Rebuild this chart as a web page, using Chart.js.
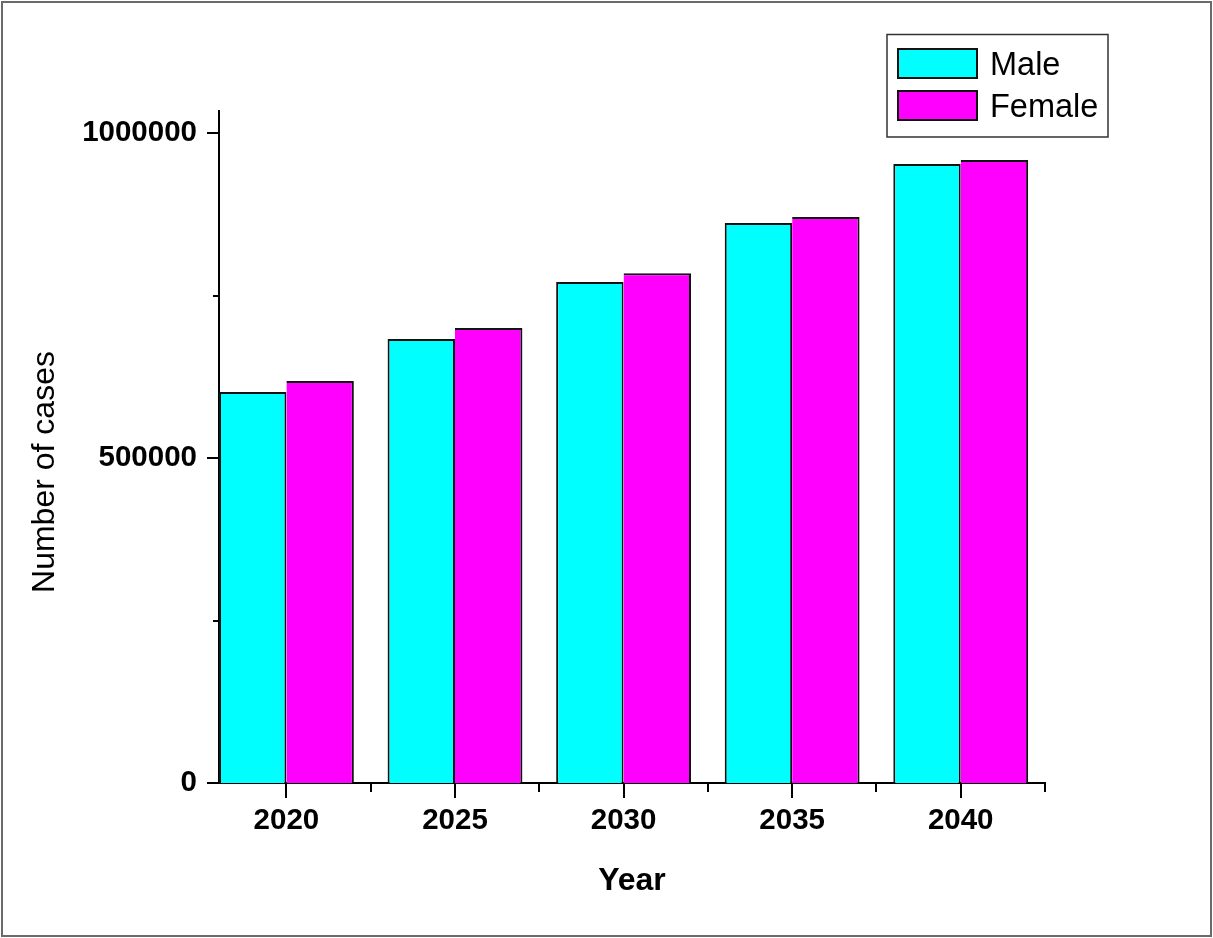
<!DOCTYPE html>
<html>
<head>
<meta charset="utf-8">
<script src="https://cdn.jsdelivr.net/npm/chart.js@4.4.1/dist/chart.umd.min.js"></script>
<style>
  html, body { margin: 0; padding: 0; background: #ffffff; }
  #wrap { width: 1213px; height: 938px; position: relative; }
</style>
</head>
<body>
<div id="wrap"><canvas id="c" width="1213" height="938"></canvas></div>
<script>
// Projected number of cases by year and sex
const years = [2020, 2025, 2030, 2035, 2040];
const maleCases = [601500, 683000, 771000, 861500, 952500];
const femaleCases = [618500, 700000, 784500, 871000, 958500];
const seriesNames = ['Male', 'Female'];

// Axis ticks: labelled (major) and unlabelled (minor)
const yMajorTicks = [0, 500000, 1000000];
const yMinorTicks = [250000, 750000];
const xMajorTicks = years;
const xMinorTicks = [2022.5, 2027.5, 2032.5, 2037.5, 2042.5];

const FONT = "'Liberation Sans', Arial, sans-serif";

const toPoints = (vals) => vals.map((v, i) => ({ x: years[i], y: v }));

// Outer frame around the whole figure
const framePlugin = {
  id: 'frame',
  beforeDraw(chart) {
    const ctx = chart.ctx;
    ctx.save();
    ctx.fillStyle = '#ffffff';
    ctx.fillRect(0, 0, chart.width, chart.height);
    ctx.strokeStyle = '#6a6a6a';
    ctx.lineWidth = 2;
    ctx.strokeRect(2, 2, chart.width - 4, chart.height - 4);
    ctx.restore();
  }
};

// Outward tick marks, longer for labelled values
const tickMarksPlugin = {
  id: 'tickMarks',
  afterDraw(chart) {
    const ctx = chart.ctx;
    const xs = chart.scales.x, ys = chart.scales.y;
    const area = chart.chartArea;
    ctx.save();
    ctx.strokeStyle = '#000';
    ctx.lineWidth = 2;
    ctx.beginPath();
    const yTick = (v, len) => {
      const p = Math.round(ys.getPixelForValue(v));
      ctx.moveTo(area.left, p);
      ctx.lineTo(area.left - len, p);
    };
    const xTick = (v, len) => {
      const p = Math.round(xs.getPixelForValue(v));
      ctx.moveTo(p, area.bottom);
      ctx.lineTo(p, area.bottom + len);
    };
    yMajorTicks.forEach(v => yTick(v, 12));
    yMinorTicks.forEach(v => yTick(v, 6));
    xMajorTicks.forEach(v => xTick(v, 15));
    xMinorTicks.forEach(v => xTick(v, 9));
    ctx.stroke();
    ctx.restore();
  }
};

// Vertical axis title
const yTitlePlugin = {
  id: 'yTitle',
  afterDraw(chart) {
    const ctx = chart.ctx;
    ctx.save();
    ctx.translate(45, 472);
    ctx.rotate(-Math.PI / 2);
    ctx.fillStyle = '#000';
    ctx.font = `32px ${FONT}`;
    ctx.textAlign = 'center';
    ctx.textBaseline = 'middle';
    ctx.fillText('Number of cases', 0, 0);
    ctx.restore();
  }
};

// Boxed legend in the upper right corner
const boxLegendPlugin = {
  id: 'boxLegend',
  afterDraw(chart) {
    const ctx = chart.ctx;
    ctx.save();
    ctx.strokeStyle = '#333';
    ctx.lineWidth = 1.5;
    ctx.strokeRect(887, 34.5, 221, 102.5);
    ctx.font = `32.5px ${FONT}`;
    ctx.textAlign = 'left';
    ctx.textBaseline = 'alphabetic';
    chart.data.datasets.forEach((ds, i) => {
      const top = 49 + i * 42;
      ctx.fillStyle = ds.backgroundColor;
      ctx.fillRect(898, top, 79, 29);
      ctx.strokeStyle = '#111';
      ctx.lineWidth = 2;
      ctx.strokeRect(898, top, 79, 29);
      ctx.fillStyle = '#000';
      ctx.fillText(ds.label, 990, top + 25.5);
    });
    ctx.restore();
  }
};

new Chart(document.getElementById('c'), {
  type: 'bar',
  data: {
    datasets: [
      {
        label: seriesNames[0],
        data: toPoints(maleCases),
        backgroundColor: '#00ffff',
        borderColor: '#111111',
        borderWidth: { top: 2, left: 2, right: 2, bottom: 0 },
        borderSkipped: 'start'
      },
      {
        label: seriesNames[1],
        data: toPoints(femaleCases),
        backgroundColor: '#ff00ff',
        borderColor: '#111111',
        borderWidth: { top: 2, left: 0, right: 2, bottom: 0 },
        borderSkipped: 'start'
      }
    ]
  },
  options: {
    responsive: false,
    animation: false,
    devicePixelRatio: 1,
    categoryPercentage: 0.8,
    barPercentage: 1.0,
    layout: { padding: { left: 0, top: 111, right: 168, bottom: 0 } },
    plugins: {
      legend: { display: false },
      tooltip: { enabled: false },
      title: { display: false }
    },
    scales: {
      x: {
        type: 'linear',
        offset: false,
        min: 2018,
        max: 2042.5,
        afterBuildTicks(scale) {
          scale.ticks = xMajorTicks.map(v => ({ value: v }));
        },
        afterFit(scale) { scale.height = 155; },
        grid: { display: false, drawTicks: false },
        border: { display: true, color: '#000', width: 2 },
        ticks: {
          autoSkip: false,
          maxRotation: 0,
          padding: 20,
          color: '#000',
          font: { family: FONT, size: 29.5, weight: 'bold' },
          callback: (v) => String(v)
        },
        title: {
          display: true,
          text: 'Year',
          color: '#000',
          font: { family: FONT, size: 32, weight: 'bold' },
          padding: { top: 0, bottom: 38 }
        }
      },
      y: {
        type: 'linear',
        min: 0,
        max: 1034000,
        afterBuildTicks(scale) {
          scale.ticks = yMajorTicks.map(v => ({ value: v }));
        },
        afterFit(scale) { scale.width = 219; },
        grid: { display: false, drawTicks: false },
        border: { display: true, color: '#000', width: 2 },
        ticks: {
          autoSkip: false,
          padding: 22,
          color: '#000',
          font: { family: FONT, size: 29.5, weight: 'bold' },
          callback: (v) => String(v)
        },
        title: { display: false }
      }
    }
  },
  plugins: [framePlugin, tickMarksPlugin, yTitlePlugin, boxLegendPlugin]
});
</script>
</body>
</html>
